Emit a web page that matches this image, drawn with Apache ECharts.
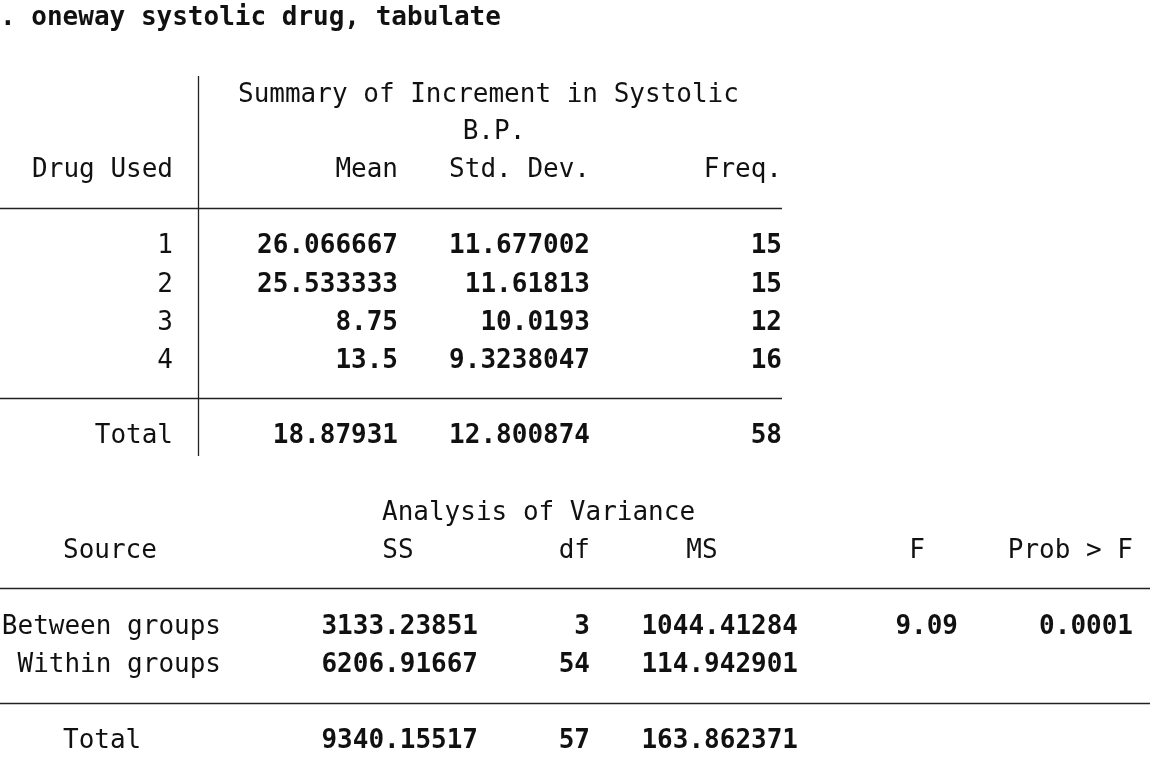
<!DOCTYPE html>
<html><head><meta charset="utf-8">
<script src="https://cdn.jsdelivr.net/npm/echarts@6/dist/echarts.min.js"></script>
<style>html,body{margin:0;padding:0;background:#fff}#c{width:1163px;height:765px}</style>
</head><body><div id="c"></div>
<script>
const drugs = ['1','2','3','4'];
const means = ['26.066667','25.533333','8.75','13.5'];
const sds = ['11.677002','11.61813','10.0193','9.3238047'];
const freqs = ['15','15','12','16'];
const totalRow = ['18.87931','12.800874','58'];
const sources = ['Between groups','Within groups'];
const ss = ['3133.23851','6206.91667'];
const dfs = ['3','54'];
const ms = ['1044.41284','114.942901'];
const fVal = '9.09';
const prob = '0.0001';
const anovaTotal = ['9340.15517','57','163.862371'];

const FONT = '"DejaVu Sans Mono", "Liberation Mono", monospace';
const FS = 26;
const els = [];
function t(str, x, y, align, bold) {
  els.push({type:'text', x:x, y:y, style:{text:str, fill:'#111', font:(bold?'bold ':'')+FS+'px '+FONT, textAlign:align, textVerticalAlign:'middle'}});
}
function line(x1,y1,x2,y2){
  els.push({type:'line', shape:{x1,y1,x2,y2}, style:{stroke:'#222', lineWidth:1.3}});
}
t('. oneway systolic drug, tabulate', 0, 18, 'left', true);
t('Summary of Increment in Systolic', 238, 95, 'left');
t('B.P.', 494, 132, 'center');
t('Drug Used', 173, 170, 'right');
t('Mean', 398, 170, 'right');
t('Std. Dev.', 590, 170, 'right');
t('Freq.', 782, 170, 'right');
line(0,208.5,782,208.5);
line(0,398.5,782,398.5);
line(198.5,76,198.5,456);
const ys = [246,285,323,361];
drugs.forEach((d,i)=>{
  t(d,173,ys[i],'right');
  t(means[i],398,ys[i],'right',true);
  t(sds[i],590,ys[i],'right',true);
  t(freqs[i],782,ys[i],'right',true);
});
t('Total',173,436,'right');
t(totalRow[0],398,436,'right',true);
t(totalRow[1],590,436,'right',true);
t(totalRow[2],782,436,'right',true);

t('Analysis of Variance',382,513,'left');
t('Source',63,551,'left');
t('SS',398,551,'center');
t('df',590,551,'right');
t('MS',702,551,'center');
t('F',917,551,'center');
t('Prob > F',1133,551,'right');
line(0,588.5,1150,588.5);
const ay=[627,665];
sources.forEach((s,i)=>{
  t(s,221,ay[i],'right');
  t(ss[i],478,ay[i],'right',true);
  t(dfs[i],590,ay[i],'right',true);
  t(ms[i],798,ay[i],'right',true);
});
t(fVal,958,627,'right',true);
t(prob,1133,627,'right',true);
line(0,703.5,1150,703.5);
t('Total',63,741,'left');
t(anovaTotal[0],478,741,'right',true);
t(anovaTotal[1],590,741,'right',true);
t(anovaTotal[2],798,741,'right',true);

const chart = echarts.init(document.getElementById('c'));
chart.setOption({animation:false, graphic:{elements:els}});
</script></body></html>
